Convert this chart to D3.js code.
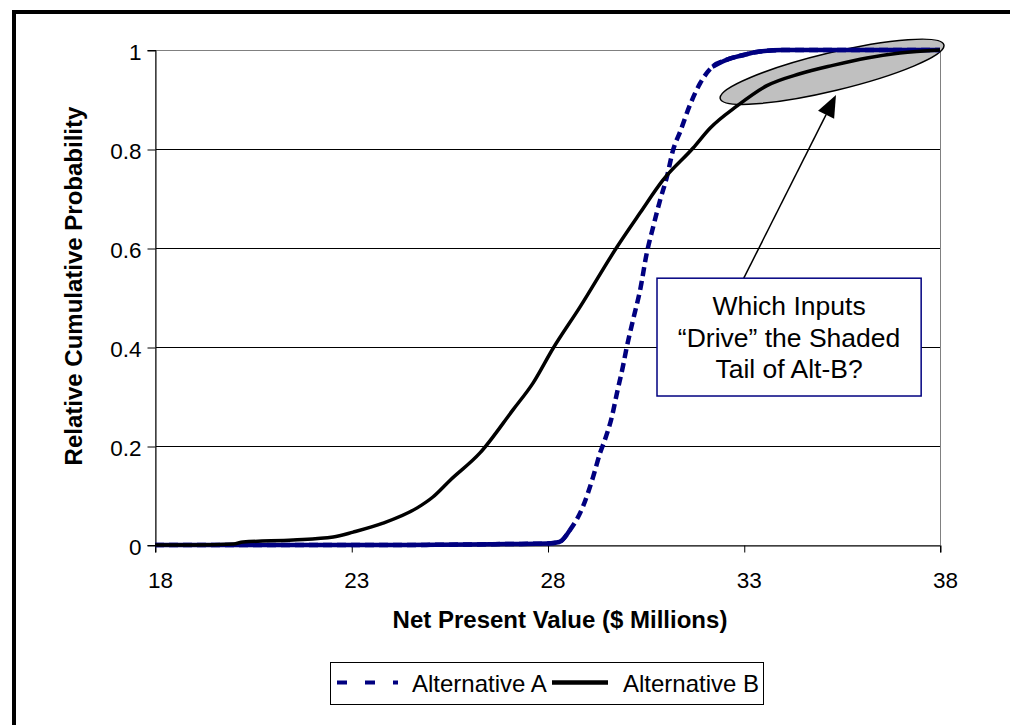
<!DOCTYPE html>
<html>
<head>
<meta charset="utf-8">
<script src="https://cdn.jsdelivr.net/npm/d3@7"></script>
<style>
  body { margin: 0; background: #fff; }
  text { font-family: "Liberation Sans", Arial, sans-serif; fill: #000; }
</style>
</head>
<body>
<div id="container"></div>
<script>
// Alternative A (dashed navy)
const altAx = [18, 20, 22, 24, 26, 27, 28, 28.3, 28.57, 28.9, 29.16, 29.34, 29.46, 29.64, 29.77, 29.92, 30.02, 30.18, 30.36, 30.53, 30.69, 30.87, 31.04, 31.2, 31.38, 31.63, 31.89, 32.2, 32.56, 33.0, 33.33, 34.0, 36, 38];
const altAy = [0, 0, 0, 0, 0.001, 0.002, 0.003, 0.006, 0.03, 0.077, 0.137, 0.186, 0.212, 0.259, 0.307, 0.36, 0.4, 0.455, 0.515, 0.59, 0.642, 0.697, 0.743, 0.798, 0.835, 0.889, 0.933, 0.966, 0.98, 0.99, 0.996, 1, 1, 1];

// Alternative B (solid black)
const altBx = [18, 19, 20, 20.24, 21.52, 22.54, 23.05, 23.81, 24.68, 25.08, 25.52, 26.28, 27.12, 27.63, 28.14, 28.83, 29.77, 30.36, 30.94, 31.71, 32.14, 32.83, 33.59, 34.43, 35.27, 36.14, 36.98, 38];
const altBy = [0, 0, 0.002, 0.006, 0.01, 0.016, 0.026, 0.044, 0.075, 0.097, 0.131, 0.186, 0.273, 0.327, 0.397, 0.481, 0.602, 0.671, 0.737, 0.802, 0.842, 0.887, 0.928, 0.952, 0.969, 0.984, 0.994, 1];

const xTicks = [18, 23, 28, 33, 38];
const yTicks = [0, 0.2, 0.4, 0.6, 0.8, 1];
const seriesNames = ["Alternative A", "Alternative B"];
const noteLines = ["Which Inputs", "\u201CDrive\u201D the Shaded", "Tail of Alt-B?"];

const width = 1010,
  height = 725;
const margin = { left: 155, top: 50, right: 70, bottom: 180 };
const plotW = width - margin.left - margin.right,
  plotH = height - margin.top - margin.bottom;

const svg = d3
  .select("#container")
  .append("svg")
  .attr("width", width)
  .attr("height", height);

//outer frame, right and bottom edges fall outside the picture
svg
  .append("rect")
  .attr("x", 14)
  .attr("y", 12)
  .attr("width", width + 20)
  .attr("height", height + 20)
  .attr("fill", "none")
  .attr("stroke", "#000")
  .attr("stroke-width", 4);

const x = d3.scaleLinear().domain([18, 38]).range([0, plotW]);
const y = d3.scaleLinear().domain([0, 1]).range([plotH, 0]);

const g = svg
  .append("g")
  .attr("transform", `translate(${margin.left},${margin.top})`);

//gridlines
g.append("g")
  .selectAll("line")
  .data(yTicks.filter((d) => d > 0))
  .enter()
  .append("line")
  .attr("x1", 0)
  .attr("x2", plotW)
  .attr("y1", (d) => Math.round(y(d)) + 0.5)
  .attr("y2", (d) => Math.round(y(d)) + 0.5)
  .attr("stroke", "#000")
  .attr("stroke-width", 1);

//plot area border (grey)
g.append("rect")
  .attr("x", 0.5)
  .attr("y", 0.5)
  .attr("width", plotW)
  .attr("height", plotH)
  .attr("fill", "none")
  .attr("stroke", "#808080")
  .attr("stroke-width", 1);

//axes
const yAxis = d3
  .axisLeft(y)
  .tickValues(yTicks)
  .tickSize(8)
  .tickPadding(6)
  .tickFormat((d) => String(+d.toFixed(1)));
const yG = g.append("g").attr("transform", "translate(0.5,0)").call(yAxis);
yG.selectAll("line").attr("transform", "translate(0,0.5)");
yG.selectAll("text").attr("dy", "0.4em").style("font-size", "22.5px");

const xAxis = d3.axisBottom(x).tickValues(xTicks).tickSize(7).tickPadding(20);
const xG = g
  .append("g")
  .attr("transform", `translate(0,${plotH + 0.5})`)
  .call(xAxis);
xG.selectAll("line").attr("transform", "translate(0.5,0)");
xG.selectAll("text").attr("dx", 5).style("font-size", "22.5px");

g.selectAll(".domain").attr("stroke", "#000").attr("stroke-width", 1);
g.selectAll(".tick line").attr("stroke", "#000");

//axis titles
svg
  .append("text")
  .attr("x", 560)
  .attr("y", 628)
  .attr("text-anchor", "middle")
  .style("font-size", "24px")
  .style("font-weight", "bold")
  .text("Net Present Value ($ Millions)");

svg
  .append("text")
  .attr("transform", "translate(82,286) rotate(-90)")
  .attr("text-anchor", "middle")
  .style("font-size", "24px")
  .style("font-weight", "bold")
  .text("Relative Cumulative Probability");

//shaded tail ellipse (sits behind the curves)
g.append("ellipse")
  .attr("transform", `translate(${x(35.25)},${y(0.956)}) rotate(-13.5)`)
  .attr("rx", 115)
  .attr("ry", 19)
  .attr("fill", "#c0c0c0")
  .attr("stroke", "#000")
  .attr("stroke-width", 1.5);

const dataA = altAx.map((d, i) => ({ x: d, y: altAy[i] }));
const dataB = altBx.map((d, i) => ({ x: d, y: altBy[i] }));

const line = d3
  .line()
  .x((d) => x(d.x))
  .y((d) => y(d.y))
  .curve(d3.curveMonotoneX);

//Alternative A: dashed on the steep part, reads solid where flat
g.append("path")
  .datum(dataA)
  .attr("d", line)
  .attr("fill", "none")
  .attr("stroke", "#000080")
  .attr("stroke-width", 4.5)
  .attr("stroke-dasharray", "9,5");

g.append("path")
  .datum(dataA)
  .attr("d", line.defined((d) => d.y <= 0.03 || d.y >= 0.96))
  .attr("fill", "none")
  .attr("stroke", "#000080")
  .attr("stroke-width", 4.5);
line.defined(() => true);

//Alternative B
g.append("path")
  .datum(dataB)
  .attr("d", line)
  .attr("fill", "none")
  .attr("stroke", "#000")
  .attr("stroke-width", 3.5);

//annotation box + arrow
const boxX0 = x(30.79),
  boxX1 = x(37.52),
  boxY0 = y(0.539),
  boxY1 = y(0.301);
const tip = [x(35.35), y(0.909)];
const start = [x(33.0), y(0.539)];

const dx = tip[0] - start[0],
  dy = tip[1] - start[1];
const len = Math.hypot(dx, dy);
const ux = dx / len,
  uy = dy / len;
const headL = 22,
  headW = 9;
const base = [tip[0] - headL * ux, tip[1] - headL * uy];

g.append("line")
  .attr("x1", start[0])
  .attr("y1", start[1])
  .attr("x2", base[0])
  .attr("y2", base[1])
  .attr("stroke", "#000")
  .attr("stroke-width", 1.5);

g.append("path")
  .attr(
    "d",
    `M${tip[0]},${tip[1]}L${base[0] - headW * uy},${base[1] + headW * ux}L${
      base[0] + headW * uy
    },${base[1] - headW * ux}Z`
  )
  .attr("fill", "#000");

g.append("rect")
  .attr("x", boxX0)
  .attr("y", boxY0)
  .attr("width", boxX1 - boxX0)
  .attr("height", boxY1 - boxY0)
  .attr("fill", "#fff")
  .attr("stroke", "#000080")
  .attr("stroke-width", 1.5);

g.append("g")
  .selectAll("text")
  .data(noteLines)
  .enter()
  .append("text")
  .attr("x", (boxX0 + boxX1) / 2)
  .attr("y", (d, i) => boxY0 + 37 + i * 31.5)
  .attr("text-anchor", "middle")
  .style("font-size", "26.5px")
  .text((d) => d);

//legend
const legend = svg.append("g").attr("id", "legend");
legend
  .append("rect")
  .attr("x", 330.5)
  .attr("y", 662.5)
  .attr("width", 433)
  .attr("height", 42)
  .attr("fill", "#fff")
  .attr("stroke", "#000")
  .attr("stroke-width", 1);

legend
  .append("line")
  .attr("x1", 337)
  .attr("x2", 398)
  .attr("y1", 682.5)
  .attr("y2", 682.5)
  .attr("stroke", "#000080")
  .attr("stroke-width", 4)
  .attr("stroke-dasharray", "10,18");

legend
  .append("line")
  .attr("x1", 552)
  .attr("x2", 608)
  .attr("y1", 682.5)
  .attr("y2", 682.5)
  .attr("stroke", "#000")
  .attr("stroke-width", 4.5);

legend
  .selectAll(".lbl")
  .data(seriesNames)
  .enter()
  .append("text")
  .attr("class", "lbl")
  .attr("x", (d, i) => (i === 0 ? 412 : 623))
  .attr("y", 692)
  .style("font-size", "24px")
  .text((d) => d);
</script>
</body>
</html>
